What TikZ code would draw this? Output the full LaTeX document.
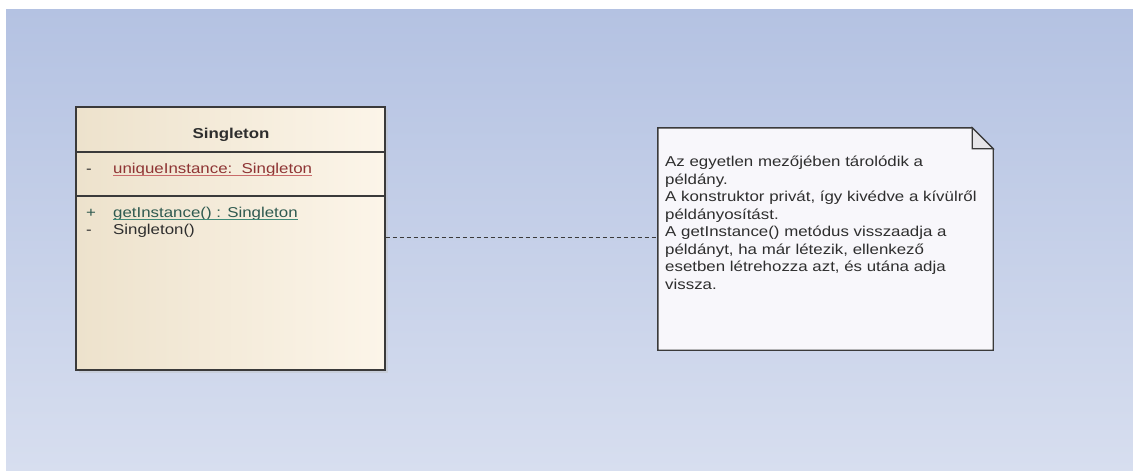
\documentclass[tikz,border=0pt]{standalone}
\usepackage{fontspec}
\usepackage{xcolor}
\newfontfamily\umlfont[FakeStretch=1.18]{Liberation Sans}
\definecolor{bgtop}{HTML}{B4C2E2}
\definecolor{bgbot}{HTML}{D7DEEF}
\definecolor{classleft}{HTML}{EDE2CC}
\definecolor{classright}{HTML}{FCF5E9}
\definecolor{notefill}{HTML}{F8F7FB}
\definecolor{edgegray}{HTML}{3A3A3A}
\definecolor{attrred}{HTML}{8E3434}
\definecolor{attrline}{HTML}{C86A6A}
\definecolor{opgreen}{HTML}{2F5A50}
\definecolor{opline}{HTML}{3F8A78}
\definecolor{txtgray}{HTML}{2E2E2E}

\begin{document}
\begin{tikzpicture}[x=1pt,y=-1pt,
  umltext/.style={anchor=base west,inner sep=0pt,font={\umlfont\fontsize{14.3}{17.5}\selectfont}},
  umlline/.style={edgegray,line width=1.5pt}]
\useasboundingbox (0,0) rectangle (1133,471);
\fill[white] (0,0) rectangle (1133,471);
\shade[top color=bgtop,bottom color=bgbot] (6,9) rectangle (1133,471);

% class box
\fill[black!25,opacity=0.4] (79,110) rectangle (388,373);
\node[draw=edgegray,line width=1.4pt,left color=classleft,right color=classright,
  minimum width=309pt,minimum height=263pt,inner sep=0pt] (singleton) at (230.5,238.5) {};
\draw[umlline] (singleton.west |- 0,152) -- (singleton.east |- 0,152);
\draw[umlline] (singleton.west |- 0,196) -- (singleton.east |- 0,196);
\node[umltext,anchor=base,txtgray,font={\umlfont\fontsize{14.3}{17.5}\selectfont\bfseries}] (name) at (231,138) {Singleton};

\node[umltext,txtgray] (attrvis) at (86,173) {-};
\node[umltext,attrred] (attr) at (113,173) {uniqueInstance:\ \ Singleton};
\draw[attrline,line width=0.8pt] ([yshift=-2.5pt]attr.base west) -- ([yshift=-2.5pt]attr.base east);

\node[umltext,opgreen] (opvis) at (86,217) {+};
\node[umltext,opgreen] (op) at (113,217) {getInstance() : Singleton};
\draw[opline,line width=0.8pt] ([yshift=-2.5pt]op.base west) -- ([yshift=-2.5pt]op.base east);
\node[umltext,txtgray] (ctorvis) at (86,234) {-};
\node[umltext,txtgray] (ctor) at (113,234) {Singleton()};

% note
\node[minimum width=335pt,minimum height=222pt,inner sep=0pt] (note) at (825.5,239) {};
\draw[edgegray,line width=1.4pt,fill=notefill] (note.north west) -- ([xshift=-21pt]note.north east)
  -- ([yshift=-21pt]note.north east) -- (note.south east) -- (note.south west) -- cycle;
\draw[edgegray,line width=1.2pt,fill=notefill!85!gray] ([xshift=-21pt]note.north east)
  -- ([xshift=-21pt,yshift=-21pt]note.north east) -- ([yshift=-21pt]note.north east) -- cycle;
\node[umltext,txtgray,align=left] (notetext) at (665,289) {Az egyetlen mezőjében tárolódik a\\
  példány.\\
  A konstruktor privát, így kivédve a kívülről\\
  példányosítást.\\
  A getInstance() metódus visszaadja a\\
  példányt, ha már létezik, ellenkező\\
  esetben létrehozza azt, és utána adja\\
  vissza.};

\draw[edgegray,dash pattern=on 4pt off 3pt,line width=0.9pt] ([yshift=1pt]singleton.east)
  -- ([yshift=1pt]singleton.east -| note.west);
\end{tikzpicture}
\end{document}
